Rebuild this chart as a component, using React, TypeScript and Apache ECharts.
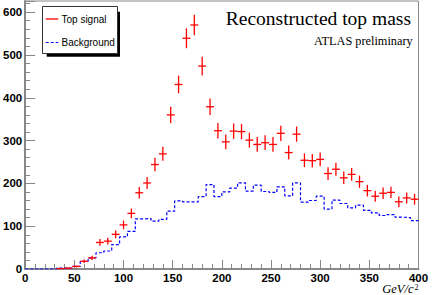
import React, { useEffect, useRef } from "react";
import * as echarts from "echarts";

// Histogram binning (GeV/c^2)
const X_MIN = 0;
const X_MAX = 400;
const BIN_WIDTH = 8;
const Y_MAX = 626;

// Signal counts per bin (bins of 8 GeV from 0 to 400)
const topSignal = [
  0, 0, 0, 0, 1, 2, 6, 18, 26, 62,
  65, 81, 103, 130, 178, 201, 244, 269, 360, 431,
  539, 570, 474, 379, 323, 297, 322, 321, 301, 291,
  295, 291, 317, 272, 315, 254, 253, 256, 223, 233,
  213, 221, 204, 183, 170, 177, 179, 157, 166, 163,
];

// Background counts per bin
const background = [
  0, 0, 0, 0, 2, 2, 6, 18, 26, 38,
  42, 57, 75, 88, 117, 118, 112, 116, 135, 159,
  157, 157, 169, 197, 169, 180, 189, 201, 182, 196,
  181, 179, 192, 171, 201, 156, 160, 170, 140, 161,
  153, 143, 149, 137, 131, 125, 127, 121, 120, 113,
];

const xTicks = [0, 50, 100, 150, 200, 250, 300, 350, 400];
const yTicks = [0, 100, 200, 300, 400, 500, 600];

const AXIS_GREY = "#888888";
const SANS = "'Liberation Sans', Arial, Helvetica, sans-serif";
const SERIF = "'Liberation Serif', 'Times New Roman', Times, serif";

export default function App() {
  const ref = useRef<HTMLDivElement>(null);

  useEffect(() => {
    if (!ref.current) return;
    const chart = echarts.init(ref.current, undefined, { renderer: "svg" });

    const signalData = topSignal
      .map((v, i) => [X_MIN + BIN_WIDTH * (i + 0.5), v])
      .filter((d) => d[1] > 0);

    const bgData = background.map((v, i) => [X_MIN + BIN_WIDTH * i, v]);
    bgData.push([X_MAX, background[background.length - 1]]);

    const option: any = {
      animation: false,
      backgroundColor: "#ffffff",
      grid: {
        left: 23.5,
        right: 17.5,
        top: 1,
        bottom: 26,
        show: true,
        borderColor: AXIS_GREY,
        borderWidth: 1,
      },
      xAxis: {
        type: "value",
        min: X_MIN,
        max: X_MAX,
        interval: xTicks[1] - xTicks[0],
        axisLine: { show: true, lineStyle: { color: AXIS_GREY, width: 2 } },
        axisTick: { show: true, inside: true, length: 9, lineStyle: { color: AXIS_GREY, width: 1 } },
        minorTick: { show: true, splitNumber: 5, length: 5, lineStyle: { color: AXIS_GREY, width: 1 } },
        splitLine: { show: false },
        axisLabel: {
          color: "#000",
          fontFamily: SANS,
          fontWeight: "bold",
          fontSize: 11.5,
          lineHeight: 11,
          margin: 3.5,
          formatter: (v: number) => (xTicks.includes(v) ? String(v) : ""),
        },
      },
      yAxis: {
        type: "value",
        min: 0,
        max: Y_MAX,
        interval: yTicks[1] - yTicks[0],
        axisLine: { show: true, lineStyle: { color: AXIS_GREY, width: 2 } },
        axisTick: { show: true, inside: true, length: 10, lineStyle: { color: AXIS_GREY, width: 1 } },
        minorTick: { show: true, splitNumber: 5, length: 5, lineStyle: { color: AXIS_GREY, width: 1 } },
        splitLine: { show: false },
        axisLabel: {
          color: "#000",
          fontFamily: SANS,
          fontWeight: "bold",
          fontSize: 11.5,
          margin: 3,
          showMaxLabel: false,
          formatter: (v: number) => (yTicks.includes(v) ? String(v) : ""),
        },
      },
      series: [
        {
          name: "Background",
          type: "line",
          step: "end",
          data: bgData,
          symbol: "none",
          lineStyle: { color: "#0000ff", width: 1.2, type: [3, 2] },
          z: 2,
        },
        {
          name: "Top signal",
          type: "custom",
          data: signalData,
          z: 3,
          renderItem: (params: any, api: any) => {
            const x = api.value(0);
            const y = api.value(1);
            const err = Math.sqrt(y);
            const pL = api.coord([x - BIN_WIDTH / 2, y]);
            const pR = api.coord([x + BIN_WIDTH / 2, y]);
            const pT = api.coord([x, y + err]);
            const pB = api.coord([x, y - err]);
            const style = { stroke: "#ff0000", lineWidth: 1.3 };
            return {
              type: "group",
              children: [
                { type: "line", shape: { x1: pL[0], y1: pL[1], x2: pR[0], y2: pR[1] }, style },
                { type: "line", shape: { x1: pT[0], y1: pT[1], x2: pB[0], y2: pB[1] }, style },
              ],
            };
          },
        },
      ],
      graphic: [
        // legend shadow + box
        { type: "rect", z: 10, shape: { x: 46.7, y: 11.7, width: 73.3, height: 45 }, style: { fill: "#000" } },
        { type: "rect", z: 11, shape: { x: 42.5, y: 6.5, width: 75, height: 47 }, style: { fill: "#fff", stroke: "#333", lineWidth: 1 } },
        { type: "line", z: 12, shape: { x1: 45.7, y1: 19, x2: 58.3, y2: 19 }, style: { stroke: "#ff0000", lineWidth: 1.3 } },
        { type: "text", z: 12, x: 61.5, y: 19, style: { text: "Top signal", fill: "#000", font: `10px ${SANS}`, textAlign: "left", textVerticalAlign: "middle" } },
        { type: "line", z: 12, shape: { x1: 45.7, y1: 42.5, x2: 58.3, y2: 42.5 }, style: { stroke: "#0000ff", lineWidth: 1.2, lineDash: [3, 2] } },
        { type: "text", z: 12, x: 61.5, y: 42.5, style: { text: "Background", fill: "#000", font: `10px ${SANS}`, textAlign: "left", textVerticalAlign: "middle" } },
        // titles
        { type: "text", z: 12, x: 411, y: 18, style: { text: "Reconstructed top mass", fill: "#000", font: `19.5px ${SERIF}`, textAlign: "right", textVerticalAlign: "middle" } },
        { type: "text", z: 12, x: 412.7, y: 40.5, style: { text: "ATLAS preliminary", fill: "#000", font: `12.3px ${SERIF}`, textAlign: "right", textVerticalAlign: "middle" } },
        // x-axis title
        {
          type: "text",
          z: 12,
          x: 418.5,
          y: 289.4,
          style: {
            text: "{m|GeV/c}{s|2}",
            fill: "#000",
            textAlign: "right",
            textVerticalAlign: "middle",
            rich: {
              m: { fontFamily: SERIF, fontStyle: "italic", fontSize: 12.5, fill: "#000", lineHeight: 11 },
              s: { fontFamily: SERIF, fontSize: 8, fill: "#000", verticalAlign: "top", lineHeight: 7, padding: [0, 0, 0, 1] },
            },
          },
        },
      ],
    };

    chart.setOption(option);
    return () => chart.dispose();
  }, []);

  return (
    <div
      ref={ref}
      style={{ position: "fixed", left: 0, top: 0, width: 436, height: 295, background: "#fff" }}
    />
  );
}
